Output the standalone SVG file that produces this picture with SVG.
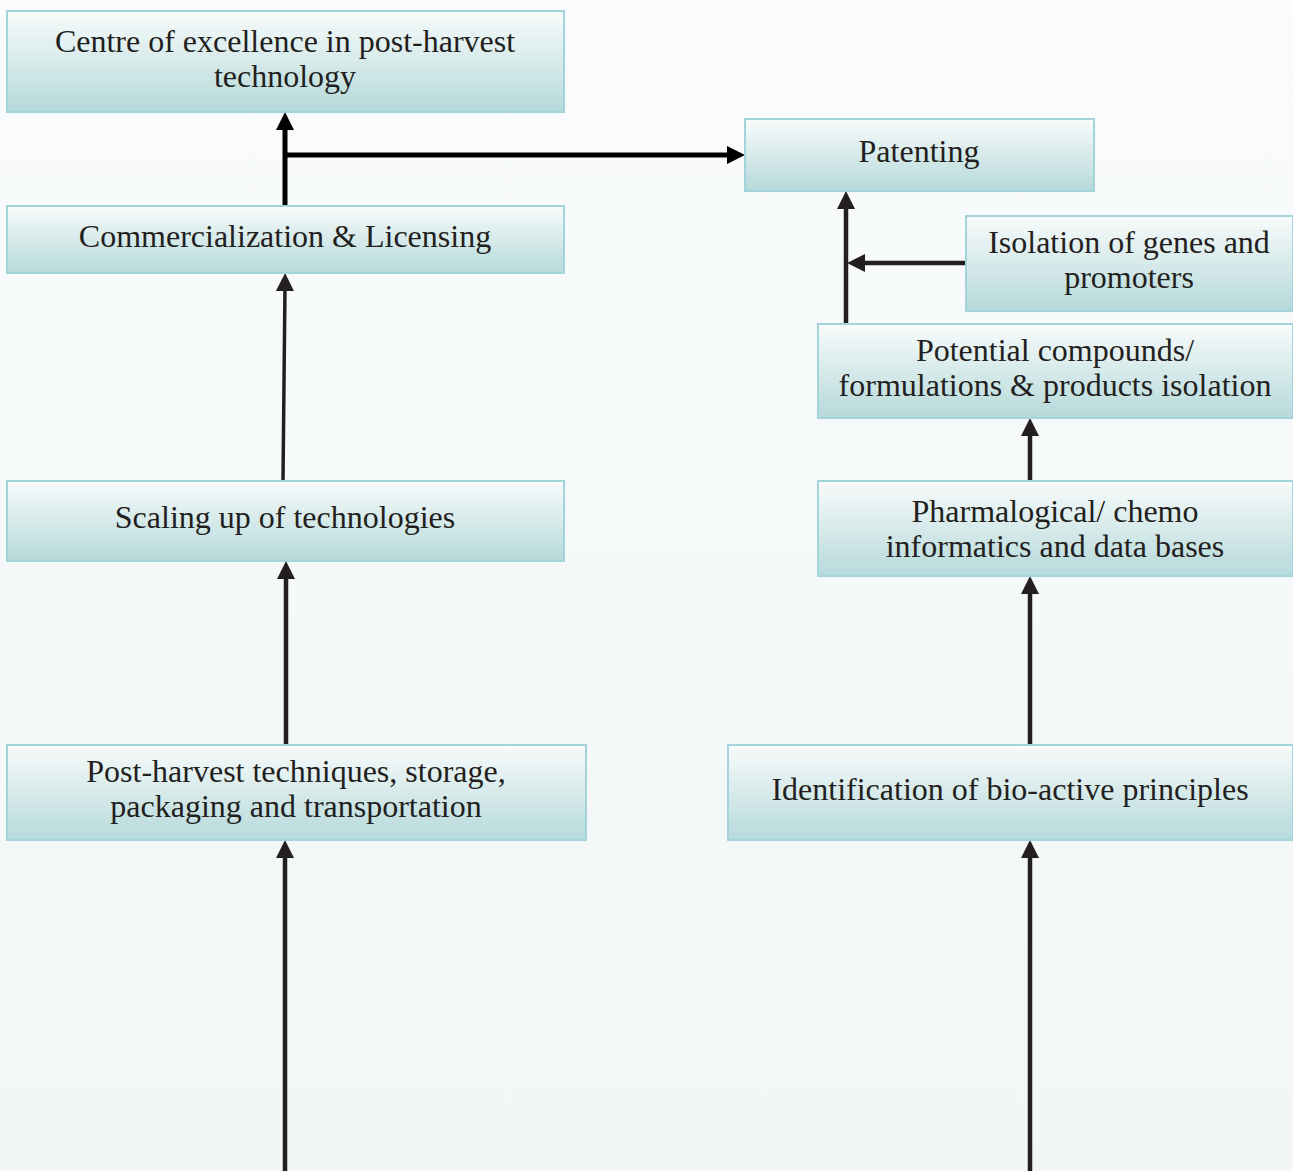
<svg xmlns="http://www.w3.org/2000/svg" width="1293" height="1171" viewBox="0 0 1293 1171">
  <defs>
    <linearGradient id="bg" x1="0" y1="0" x2="0" y2="1">
      <stop offset="0" stop-color="#f9fbfc"/>
      <stop offset="1" stop-color="#f2f6f5"/>
    </linearGradient>
    <linearGradient id="boxFill" x1="0" y1="0" x2="0" y2="1">
      <stop offset="0" stop-color="#f8fbfb"/>
      <stop offset="1" stop-color="#b6d9da"/>
    </linearGradient>
    <marker id="headDark" markerUnits="userSpaceOnUse" markerWidth="18" markerHeight="18" viewBox="0 0 18 18" refX="5" refY="9" orient="auto">
      <path d="M0,0 L18,9 L0,18 z" fill="#231f20"/>
    </marker>
    <marker id="headBlack" markerUnits="userSpaceOnUse" markerWidth="18" markerHeight="18" viewBox="0 0 18 18" refX="5" refY="9" orient="auto">
      <path d="M0,0 L18,9 L0,18 z" fill="#000"/>
    </marker>
  </defs>
  <style>
    .box { fill: url(#boxFill); stroke: #a3d4dc; stroke-width: 2; }
    .label { font-family: "Liberation Serif", "Times New Roman", serif; font-size: 32px; fill: #231f20; text-anchor: middle; }
    .link { fill: none; stroke: #231f20; stroke-width: 4.5; marker-end: url(#headDark); }
    .link.black { stroke: #000; stroke-width: 5; marker-end: url(#headBlack); }
  </style>

  <rect x="0" y="0" width="1293" height="1171" fill="url(#bg)"/>

  <!-- connectors -->
  <g id="connectors">
    <line class="link black" x1="285" y1="205" x2="285" y2="125"/>
    <line class="link black" x1="283" y1="155" x2="732" y2="155"/>
    <line class="link" x1="283" y1="480" x2="285" y2="286" style="stroke-width:3.5"/>
    <line class="link" x1="286" y1="745" x2="286" y2="574"/>
    <line class="link" x1="285" y1="1171" x2="285" y2="853"/>
    <line class="link" x1="846" y1="323" x2="846" y2="204"/>
    <line class="link" x1="966" y1="263" x2="860" y2="263"/>
    <line class="link" x1="1030" y1="480" x2="1030" y2="431"/>
    <line class="link" x1="1030" y1="745" x2="1030" y2="589"/>
    <line class="link" x1="1030" y1="1171" x2="1030" y2="853"/>
  </g>

  <g id="centre-of-excellence">
    <rect class="box" x="7" y="11" width="557" height="101"/>
    <text class="label" x="285" y="52">Centre of excellence in post-harvest</text>
    <text class="label" x="285" y="87">technology</text>
  </g>

  <g id="commercialization">
    <rect class="box" x="7" y="206" width="557" height="67"/>
    <text class="label" x="285" y="247">Commercialization &amp; Licensing</text>
  </g>

  <g id="scaling-up">
    <rect class="box" x="7" y="481" width="557" height="80"/>
    <text class="label" x="285" y="528">Scaling up of technologies</text>
  </g>

  <g id="post-harvest">
    <rect class="box" x="7" y="745" width="579" height="95"/>
    <text class="label" x="296" y="782">Post-harvest techniques, storage,</text>
    <text class="label" x="296" y="817">packaging and transportation</text>
  </g>

  <g id="patenting">
    <rect class="box" x="745" y="119" width="349" height="72"/>
    <text class="label" x="919" y="162">Patenting</text>
  </g>

  <g id="isolation-genes">
    <rect class="box" x="966" y="216" width="327" height="95"/>
    <text class="label" x="1129" y="253">Isolation of genes and</text>
    <text class="label" x="1129" y="288">promoters</text>
  </g>

  <g id="potential-compounds">
    <rect class="box" x="818" y="324" width="475" height="94"/>
    <text class="label" x="1055" y="361">Potential compounds/</text>
    <text class="label" x="1055" y="396">formulations &amp; products isolation</text>
  </g>

  <g id="pharmalogical">
    <rect class="box" x="818" y="481" width="475" height="95"/>
    <text class="label" x="1055" y="522">Pharmalogical/ chemo</text>
    <text class="label" x="1055" y="557">informatics and data bases</text>
  </g>

  <g id="identification">
    <rect class="box" x="728" y="745" width="565" height="95"/>
    <text class="label" x="1010" y="800">Identification of bio-active principles</text>
  </g>
</svg>
